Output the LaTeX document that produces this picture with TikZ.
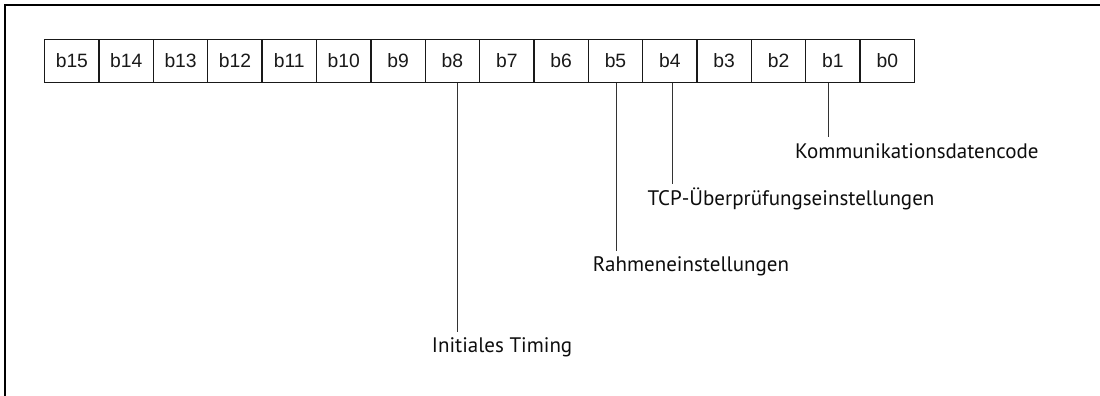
\documentclass[tikz,border=0pt]{standalone}
\usepackage{fontspec}
\setmainfont{Liberation Sans}
\newfontfamily\labelfont{PT Sans}
\begin{document}
\begin{tikzpicture}[x=1pt,y=-1pt,
  bitcell/.style={draw=black!90, line width=1.3pt, minimum width=54.36pt, minimum height=43.4pt,
    inner sep=0pt, outer sep=0pt, anchor=north west, font=\fontsize{19.3}{19.3}\selectfont, text=black!90},
  fieldlabel/.style={inner sep=0pt, text height=21pt, text depth=5pt, anchor=base west,
    font=\labelfont\fontsize{21}{21}\selectfont, text=black!95},
  leader/.style={draw=black!80, line width=1pt},
  frameline/.style={draw=black, line width=2.4pt}]
\useasboundingbox (0,0) rectangle (1100,396);
% register frame: top and left edges only
\draw[frameline] (5,396) -- (5,5) -- (1100,5);
% the sixteen bit cells, b15 on the left
\foreach \i in {0,...,15}{
  \pgfmathtruncatemacro{\b}{15-\i}
  \node[bitcell] (c\b) at ({44.7+\i*54.36},39.3) {b\b};
}
% field labels
\node[fieldlabel] (l1) at (795,158) {Kommunikationsdatencode};
\node[fieldlabel] (l4) at (647.3,205) {TCP-Überprüfungseinstellungen};
\node[fieldlabel] (l5) at (592.7,271.7) {Rahmeneinstellungen};
\node[fieldlabel] (l8) at (431.7,352.7) {Initiales Timing};
% leaders from the bits to their labels
\draw[leader] ([xshift=-4.7pt]c1.south) -- ([xshift=-4.7pt]c1.south |- l1.north);
\draw[leader] ([xshift=2.8pt]c4.south) -- ([xshift=2.8pt]c4.south |- l4.north);
\draw[leader] ([xshift=1.5pt]c5.south) -- ([xshift=1.5pt]c5.south |- l5.north);
\draw[leader] ([xshift=4.6pt]c8.south) -- ([xshift=4.6pt]c8.south |- l8.north);
\end{tikzpicture}
\end{document}
